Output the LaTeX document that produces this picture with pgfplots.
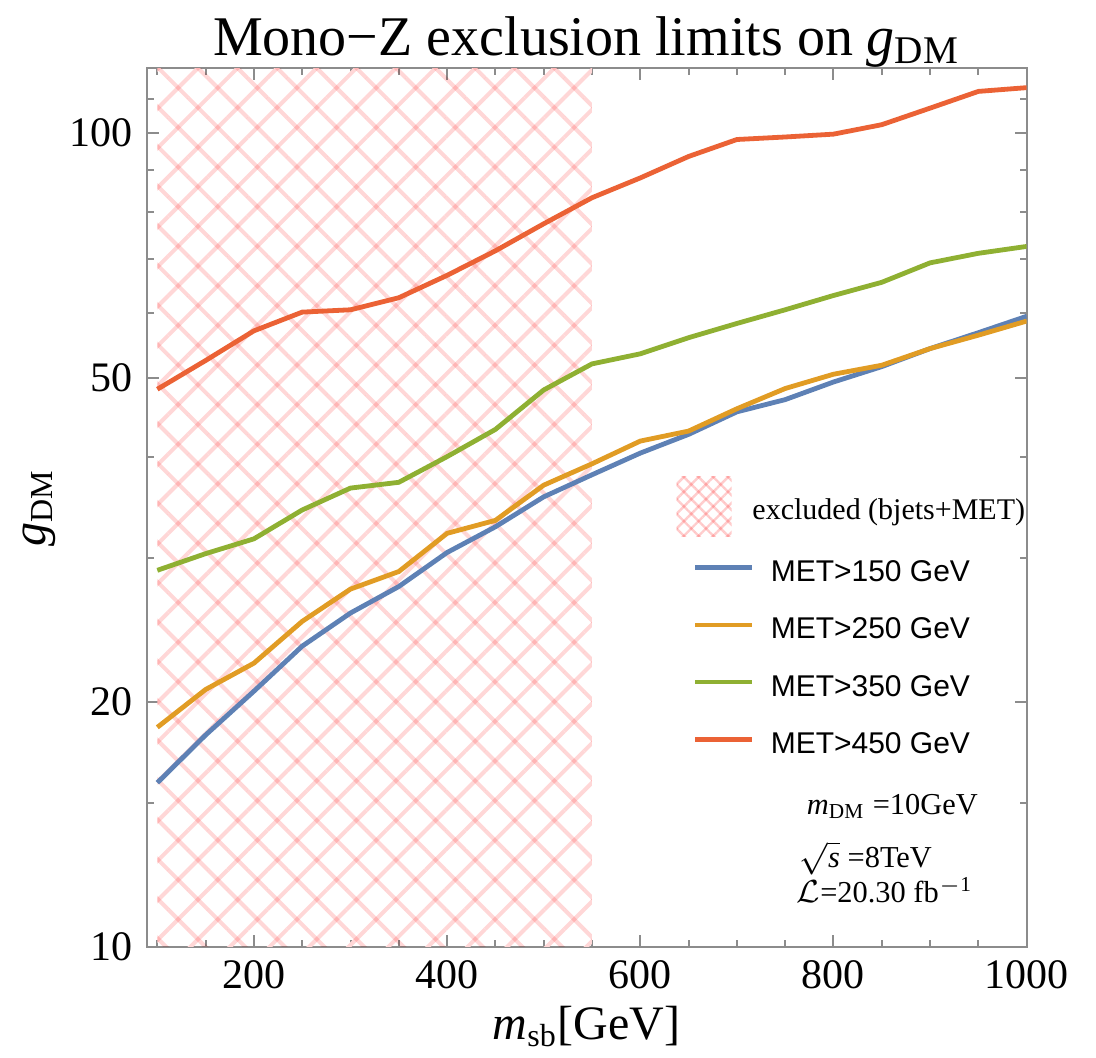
\documentclass[border=0pt]{standalone}
\usepackage{fontspec}
\setmainfont{Liberation Serif}
\newfontfamily\arial{Liberation Sans}
\usepackage{pgfplots}
\pgfplotsset{compat=1.18}
\usetikzlibrary{patterns.meta}

\definecolor{mblue}{HTML}{5E81B5}
\definecolor{morange}{HTML}{E19C24}
\definecolor{mgreen}{HTML}{8FB032}
\definecolor{mred}{HTML}{EB6235}
\definecolor{axgray}{gray}{0.55}
\definecolor{hatch}{RGB}{255,215,215}

% g_DM limits vs m_sb, one column per MET cut
\pgfplotstableread{
m    met150 met250 met350 met450
100  15.9   18.6   29.0   48.4
150  18.2   20.7   30.4   52.5
200  20.6   22.3   31.7   57.1
250  23.4   25.1   34.4   60.2
300  25.7   27.5   36.6   60.6
350  27.7   28.9   37.2   62.7
400  30.5   32.2   40.0   66.8
450  32.8   33.4   43.2   71.6
500  35.7   36.9   48.3   77.3
550  38.0   39.2   52.0   83.2
600  40.4   41.8   53.5   88.0
650  42.6   43.0   56.0   93.5
700  45.4   45.8   58.3   98.1
750  47.0   48.5   60.6   98.8
800  49.4   50.5   63.1   99.6
850  51.6   51.8   65.5   102.3
900  54.3   54.3   69.2   107.2
950  56.8   56.4   71.1   112.4
1000 59.5   58.7   72.5   113.6
}\limits

\begin{document}
\begin{tikzpicture}
\useasboundingbox (-36.675pt,-27.825pt) rectangle (237.325pt,236.675pt);
\begin{axis}[
  at={(0,0)}, anchor=south west,
  scale only axis, width=220pt, height=219.6pt,
  ymode=log,
  xmin=89, xmax=1000, ymin=10, ymax=120,
  xtick={200,400,...,1000},
  minor xtick={100,150,...,1000},
  ytick={10,20,50,100}, yticklabels={10,20,50,100},
  minor ytick={15,30,40,60,70,80,90,110},
  xtick pos=both, ytick pos=both,
  xticklabel pos=lower, yticklabel pos=left,
  tick align=inside,
  major tick length=3pt, minor tick length=1.75pt,
  axis line style={draw=axgray, line width=0.5pt},
  every tick/.style={draw=axgray, line width=0.5pt},
  ticklabel style={font=\fontsize{10.5}{12}\selectfont},
  /pgf/number format/assume math mode=true,
  /pgf/number format/1000 sep={},
  every axis title shift=0pt,
  title={Mono−Z exclusion limits on \textit{g}\textsubscript{DM}},
  title style={font=\fontsize{14}{16}\selectfont, at={(axis description cs:0.5,1.015)}, anchor=base},
  xlabel={\textit{m}\textsubscript{sb}[GeV]},
  xlabel style={font=\fontsize{12}{14}\selectfont, at={(axis description cs:0.5,-0.106)}, anchor=base},
  ylabel={\textit{g}\textsubscript{DM}},
  ylabel style={font=\fontsize{12}{14}\selectfont, at={(axis description cs:-0.1155,0.5)}, anchor=base},
]
% excluded region (bjets+MET), cross-hatched
\addplot[draw=none, pattern color=hatch,
  pattern={Lines[angle=45,distance=7pt,line width=1pt]}]
  coordinates {(100,10) (550,10) (550,120) (100,120)} -- cycle;
\addplot[draw=none, pattern color=hatch, blend mode=multiply,
  pattern={Lines[angle=-45,distance=7pt,line width=1pt]}]
  coordinates {(100,10) (550,10) (550,120) (100,120)} -- cycle;

\addplot[mblue, line width=1.2pt] table[x=m, y=met150] {\limits};
\addplot[morange, line width=1.2pt] table[x=m, y=met250] {\limits};
\addplot[mgreen, line width=1.2pt] table[x=m, y=met350] {\limits};
\addplot[mred, line width=1.2pt] table[x=m, y=met450] {\limits};

% legend
\fill[pattern color=hatch!85!red!70!white, pattern={Lines[angle=45,distance=2.6pt,line width=0.6pt]}]
  (axis description cs:0.6023,0.4664) rectangle (axis description cs:0.6648,0.5351);
\fill[pattern color=hatch!85!red!70!white, blend mode=multiply, pattern={Lines[angle=-45,distance=2.6pt,line width=0.6pt]}]
  (axis description cs:0.6023,0.4664) rectangle (axis description cs:0.6648,0.5351);
\node[anchor=base west, inner sep=0pt, font=\fontsize{7.5}{9}\selectfont]
  at (axis description cs:0.6875,0.4858) {excluded (bjets+MET)};
\draw[mblue, line width=1.2pt] (axis description cs:0.6231,0.4315) -- (axis description cs:0.6875,0.4315);
\draw[morange, line width=1.2pt] (axis description cs:0.6231,0.3662) -- (axis description cs:0.6875,0.3662);
\draw[mgreen, line width=1.2pt] (axis description cs:0.6231,0.3013) -- (axis description cs:0.6875,0.3013);
\draw[mred, line width=1.2pt] (axis description cs:0.6231,0.2354) -- (axis description cs:0.6875,0.2354);
\begin{scope}[every node/.style={anchor=base west, inner sep=0pt, font=\arial\fontsize{7.5}{9}\selectfont}]
\node at (axis description cs:0.7083,0.4155) {MET>150 GeV};
\node at (axis description cs:0.7083,0.3511) {MET>250 GeV};
\node at (axis description cs:0.7083,0.2846) {MET>350 GeV};
\node at (axis description cs:0.7083,0.2202) {MET>450 GeV};
\end{scope}

% run conditions
\begin{scope}[every node/.style={anchor=base west, inner sep=0pt, font=\fontsize{7.6}{9}\selectfont}]
\node at (axis description cs:0.7494,0.1500) {\textit{m}\textsubscript{DM} =10GeV};
\node at (axis description cs:0.7414,0.0900) {$\sqrt{\textit{s}}$ =8TeV};
\node at (axis description cs:0.7380,0.0500) {$\mathcal{L}$=20.30 fb\textsuperscript{$-$1}};
\end{scope}
\end{axis}
\end{tikzpicture}
\end{document}
